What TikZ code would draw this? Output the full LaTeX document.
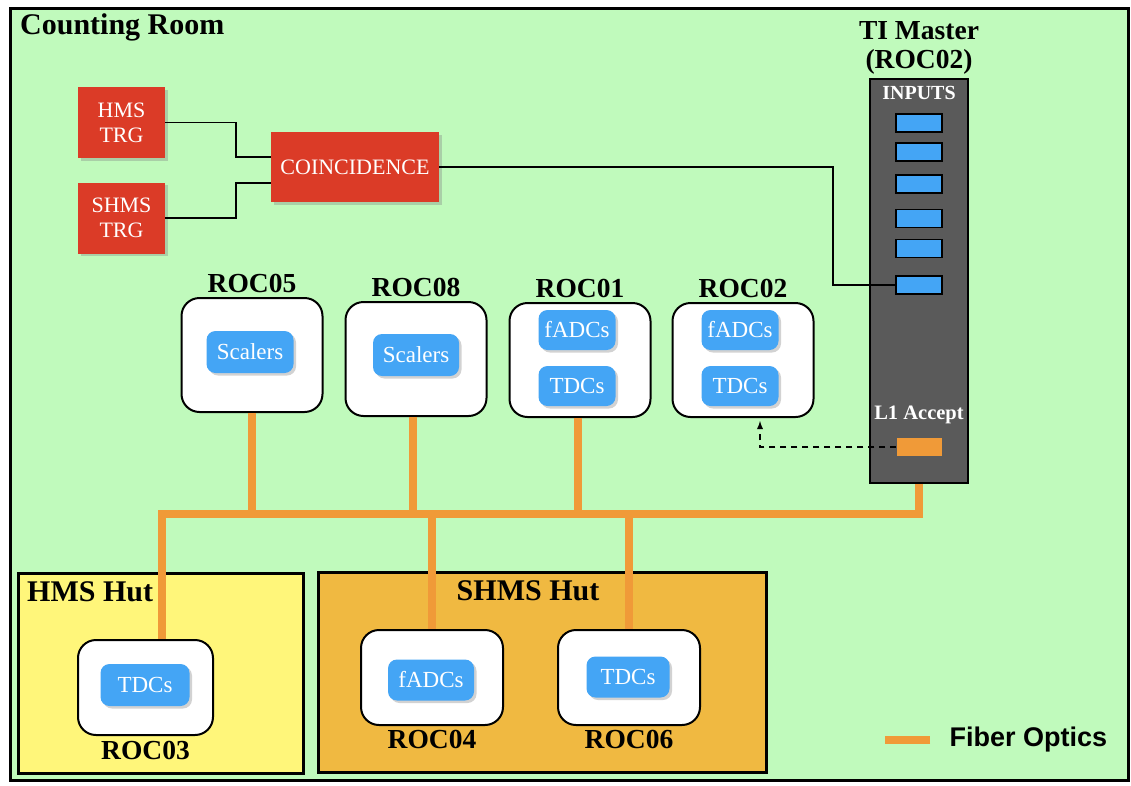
\documentclass[tikz,border=0pt]{standalone}
\usepackage{fontspec}
\setmainfont{Liberation Serif}
\newfontfamily\legendfont{Liberation Sans}
\usepackage{tikz}
\usetikzlibrary{arrows, calc, positioning, shadows}
\definecolor{roomgreen}{RGB}{192,250,188}
\definecolor{trgred}{RGB}{219,59,39}
\definecolor{modblue}{RGB}{68,165,245}
\definecolor{fiberorange}{RGB}{240,154,56}
\definecolor{tigrey}{RGB}{90,90,90}
\definecolor{hmsyellow}{RGB}{255,246,122}
\definecolor{shmsorange}{RGB}{240,185,65}
\tikzstyle{boxshadow} = [drop shadow={shadow xshift=2.5pt, shadow yshift=-2.5pt, opacity=0.35}]
\tikzstyle{trigbox} = [rectangle, fill=trgred, text=white, align=center, inner sep=0pt,
font=\fontsize{22}{25}\selectfont, boxshadow]
\tikzstyle{rocbox} = [draw, line width=2pt, fill=white, rounded corners=18pt, minimum width=141pt, minimum height=114pt]
\tikzstyle{modbox} = [fill=modblue, text=white, rounded corners=9pt, inner sep=0pt,
font=\fontsize{23}{26}\selectfont, minimum width=77pt, minimum height=40pt, boxshadow]
\tikzstyle{inputslot} = [draw, line width=1.6pt, fill=modblue, minimum width=46pt, minimum height=18pt, inner sep=0pt]
\tikzstyle{roclabel} = [font=\bfseries\fontsize{27.5}{29}\selectfont, inner sep=1pt]
\tikzstyle{hutlabel} = [font=\bfseries\fontsize{30}{32}\selectfont, inner sep=0pt]
\tikzstyle{hutbox} = [draw, line width=3pt, inner sep=0pt]
\tikzstyle{fiber} = [line width=8pt, draw=fiberorange, line join=miter]
\tikzstyle{signal} = [line width=1.8pt]

\begin{document}
\begin{tikzpicture}[x=1pt, y=-1pt]
		\useasboundingbox (0,0) rectangle (1131,785);
		\fill[white] (0,0) rectangle (1131,785);
		% counting room
		\node (room) [hutbox, fill=roomgreen, minimum width=1118pt, minimum height=772pt] at (569,394) {};
		\node (roomtitle) [hutlabel, anchor=west] at (20,27) {Counting Room};
		% trigger
		\node (hmstrg) [trigbox, minimum width=87pt, minimum height=71pt] at (121.5,122.5) {HMS\\TRG};
		\node (shmstrg) [trigbox, minimum width=87pt, minimum height=71pt] at (121.5,218) {SHMS\\TRG};
		\node (coinc) [trigbox, minimum width=168pt, minimum height=70pt] at (355,167) {COINCIDENCE};
		% TI master
		\node (timaster) [draw, line width=1.8pt, fill=tigrey, minimum width=98pt, minimum height=404pt] at (919,281) {};
		\node (tititle) [roclabel, align=center, above=3pt of timaster] {TI Master\\(ROC02)};
		\node (inputs) [font=\bfseries\fontsize{20}{22}\selectfont, text=white, below=5pt of timaster.north] {INPUTS};
		\foreach \k/\y in {1/123, 2/152, 3/184, 4/218.5, 5/248.5, 6/285}
			\node (in\k) [inputslot] at (919,\y) {};
		\node (l1text) [font=\bfseries\fontsize{20.5}{22}\selectfont, text=white] at (919,415) {L1 Accept};
		\node (l1acc) [fill=fiberorange, minimum width=45pt, minimum height=18pt, inner sep=0pt] at (919,447) {};
		% ROCs in the counting room
		\node (roc05) [rocbox] at (252,355) {};
		\node (roc08) [rocbox] at (416,359) {};
		\node (roc01) [rocbox] at (580,360) {};
		\node (roc02) [rocbox] at (743,360) {};
		\node (roc05lbl) [roclabel, above=3pt of roc05] {ROC05};
		\node (roc08lbl) [roclabel, above=3pt of roc08] {ROC08};
		\node (roc01lbl) [roclabel, above=3pt of roc01] {ROC01};
		\node (roc02lbl) [roclabel, above=3pt of roc02] {ROC02};
		\node (sca05) [modbox, minimum width=87pt, minimum height=42pt] at (250,352) {Scalers};
		\node (sca08) [modbox, minimum width=86pt, minimum height=42pt] at (416,355) {Scalers};
		\node (fadc01) [modbox] at (577,330) {fADCs};
		\node (tdc01) [modbox] at (577,386) {TDCs};
		\node (fadc02) [modbox] at (740,330) {fADCs};
		\node (tdc02) [modbox] at (740,386) {TDCs};
		% huts
		\node (hmshut) [hutbox, fill=hmsyellow, minimum width=285pt, minimum height=200pt] at (160.5,673) {};
		\node (shmshut) [hutbox, fill=shmsorange, minimum width=448pt, minimum height=200pt] at (542,672) {};
		\node (hmshutlbl) [hutlabel, anchor=west] at (27,592) {HMS Hut};
		\node (shmshutlbl) [hutlabel] at (528,591) {SHMS Hut};
		\node (roc03) [rocbox, minimum width=135pt, minimum height=95pt] at (145.5,687.5) {};
		\node (roc04) [rocbox, minimum width=142pt, minimum height=95pt] at (432,677.5) {};
		\node (roc06) [rocbox, minimum width=142pt, minimum height=95pt] at (629,677.5) {};
		\node (roc03lbl) [roclabel, below=4pt of roc03] {ROC03};
		\node (roc04lbl) [roclabel, below=3pt of roc04] {ROC04};
		\node (roc06lbl) [roclabel, below=3pt of roc06] {ROC06};
		\node (tdc03) [modbox, minimum width=89pt, minimum height=42pt] at (145,685) {TDCs};
		\node (fadc04) [modbox, minimum width=86pt, minimum height=41pt] at (431,680) {fADCs};
		\node (tdc06) [modbox, minimum width=83pt, minimum height=41pt] at (628,677) {TDCs};
		% trigger cabling
		\draw [signal] (hmstrg.east) -- ++(71,0) |- ([yshift=10pt]coinc.west);
		\draw [signal] (shmstrg.east) -- ++(71,0) |- ([yshift=-16pt]coinc.west);
		\draw [signal] (coinc.east) -- ++(394,0) |- (in6.west);
		\draw [signal, dashed, dash pattern=on 6pt off 5pt, ->, >=latex, shorten >=3pt] (l1acc.west) -| ([xshift=17pt]roc02.south);
		% fiber optics
		\coordinate (busW) at (162,514);
		\draw [fiber] (timaster.south) |- (busW) -- ([xshift=16.5pt]roc03.north);
		\draw [fiber] (roc05.south) -- (roc05.south |- busW);
		\draw [fiber] ([xshift=-3pt]roc08.south) -- ([xshift=-3pt]roc08.south |- busW);
		\draw [fiber] ([xshift=-2pt]roc01.south) -- ([xshift=-2pt]roc01.south |- busW);
		\draw [fiber] (roc04.north) -- (roc04.north |- busW);
		\draw [fiber] (roc06.north) -- (roc06.north |- busW);
		% legend
		\node (legendtext) [font=\legendfont\bfseries\fontsize{27}{29}\selectfont, anchor=west] at (946,740) {Fiber Optics};
		\draw [fiber] ([xshift=-16pt]legendtext.west) -- ++(-45,0);
	\end{tikzpicture}
\end{document}
